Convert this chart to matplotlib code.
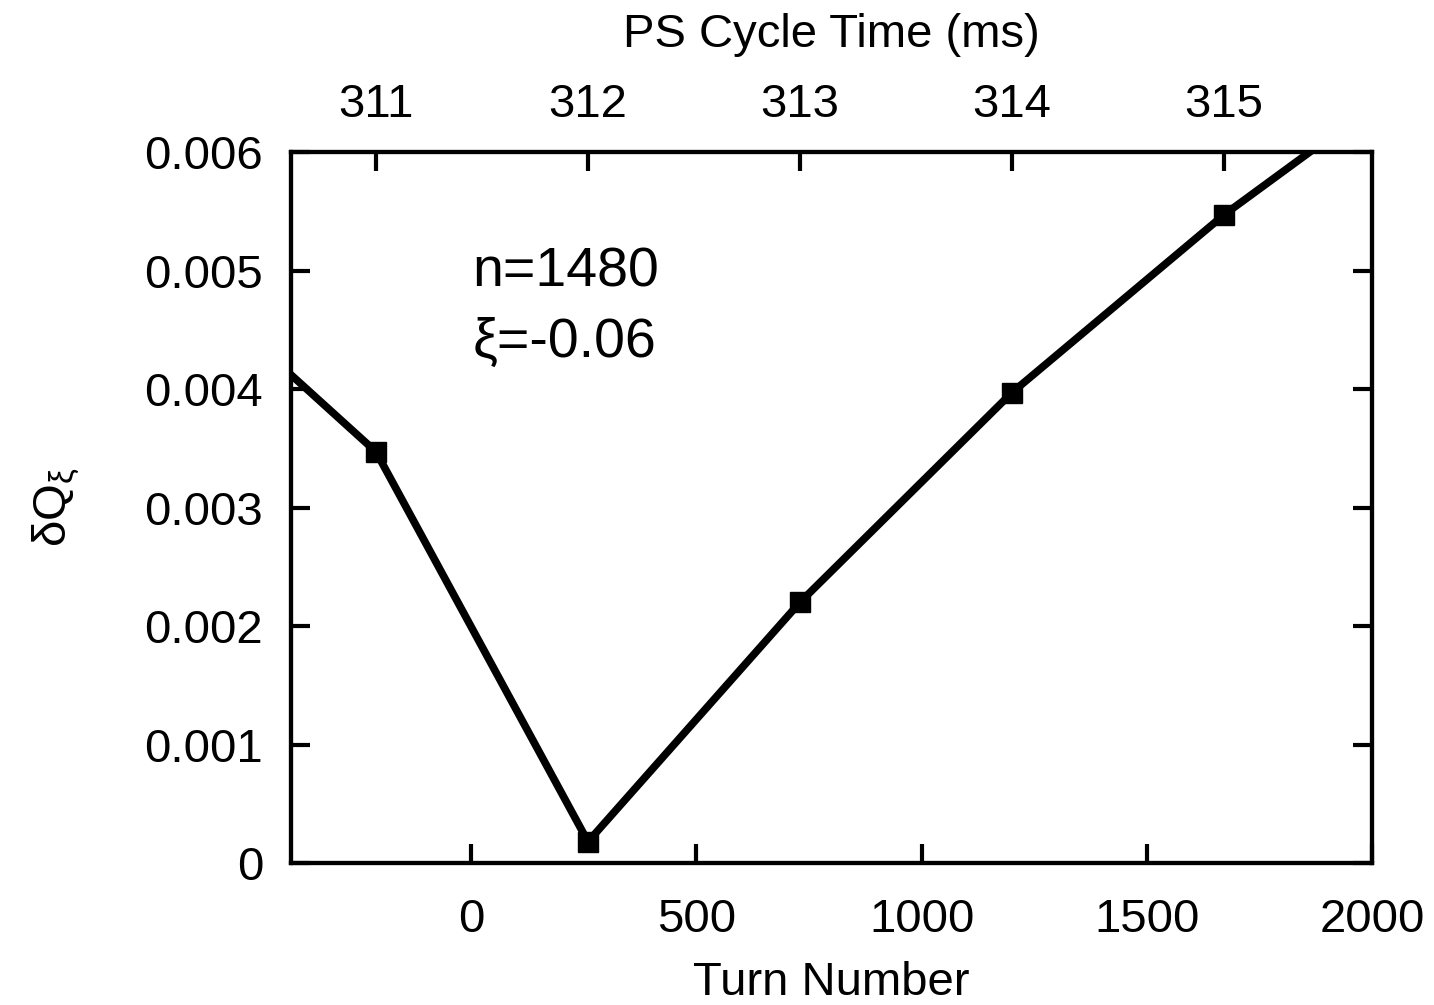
import matplotlib
matplotlib.use("Agg")
import matplotlib.pyplot as plt

plt.rcParams['font.family'] = ['Liberation Sans', 'DejaVu Sans']
plt.rcParams['mathtext.fontset'] = 'custom'
plt.rcParams['mathtext.rm'] = 'Liberation Sans'
plt.rcParams['mathtext.it'] = 'Liberation Sans'

# data (PS cycle time in ms, tune spread)
cycle_time_ms = [310, 311, 312, 313, 314, 315, 316]
delta_q = [0.00509, 0.00347, 0.00018, 0.00220, 0.00397, 0.00547, 0.00678]

turn_ticks = [0, 500, 1000, 1500, 2000]
time_ticks = [311, 312, 313, 314, 315]
y_ticks = [0, 0.001, 0.002, 0.003, 0.004, 0.005, 0.006]
y_ticklabels = ['0', '0.001', '0.002', '0.003', '0.004', '0.005', '0.006']

W, H = 1434, 1005
fig = plt.figure(figsize=(W / 100, H / 100), dpi=100)
L, R, T, B = 291, 1372, 152, 863
ax = fig.add_axes([L / W, 1 - B / H, (R - L) / W, (B - T) / H])
ax.set_xlim(-400, 2000)
ax.set_ylim(0, 0.006)

ax2 = ax.twiny()
ax2.set_xlim(310.599, 315.698)

ax2.plot(cycle_time_ms, delta_q, color='black', lw=5.5, marker='s', ms=15,
         solid_joinstyle='miter', clip_on=True)

fs = 34
ax.set_xticks(turn_ticks)
ax.set_xticklabels([str(t) for t in turn_ticks])
ax.set_yticks(y_ticks)
ax.set_yticklabels(y_ticklabels)
ax.tick_params(axis='x', which='both', direction='in', length=14, width=3,
               labelsize=fs, pad=25, bottom=True, top=False)
ax.tick_params(axis='y', which='both', direction='in', length=14, width=3,
               labelsize=fs, pad=20, left=True, right=True)
ax2.set_xticks(time_ticks)
ax2.set_xticklabels([str(t) for t in time_ticks])
ax2.tick_params(axis='x', direction='in', length=14, width=3, labelsize=fs, pad=18)

for a in (ax, ax2):
    for s in a.spines.values():
        s.set_linewidth(3)

ax.set_xlabel('Turn Number', fontsize=fs, labelpad=14)
ax2.set_xlabel('PS Cycle Time (ms)', fontsize=fs, labelpad=26)
ax.set_ylabel(r'$\delta$Q$_{\xi}$', fontsize=fs, labelpad=44)

ax.text(0.168, 0.831, 'n=1480', transform=ax.transAxes, fontsize=40, va='center', ha='left')
ax.text(0.168, 0.731, 'ξ=-0.06', transform=ax.transAxes, fontsize=40, va='center', ha='left')

fig.savefig('out.png', dpi=100)
